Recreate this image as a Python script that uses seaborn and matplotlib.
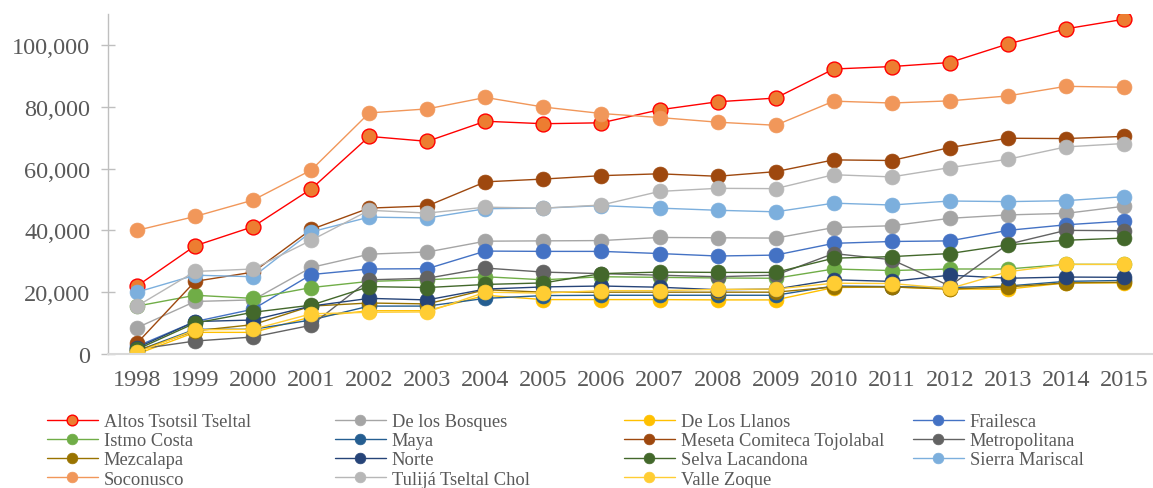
import matplotlib
matplotlib.use("Agg")
import matplotlib.pyplot as plt
import seaborn as sns
import pandas as pd
from matplotlib.ticker import FuncFormatter

years = list(range(1998, 2016))

altos_tsotsil_tseltal = [22000, 35000, 41200, 53400, 70400, 68800, 75300, 74500, 74800, 79000, 81600, 82800, 92200, 93000, 94300, 100300, 105200, 108300]
de_los_bosques = [8500, 17000, 17500, 28000, 32300, 33000, 36500, 36600, 36700, 37700, 37600, 37500, 40900, 41500, 43900, 45000, 45500, 47800]
de_los_llanos = [0, 7000, 7000, 12000, 14000, 14000, 19000, 17600, 17600, 17600, 17500, 17500, 21500, 21700, 21000, 21000, 23000, 23000]
frailesca = [2500, 10500, 14500, 25700, 27500, 27600, 33300, 33200, 33200, 32500, 31700, 32000, 35800, 36400, 36600, 40000, 41800, 43000]
istmo_costa = [15500, 19000, 18000, 21500, 23500, 24000, 25000, 24000, 25000, 24800, 24600, 24500, 27500, 27000, 27500, 27500, 29000, 29000]
maya = [1000, 8000, 8000, 11000, 15500, 15500, 18000, 18900, 19000, 19000, 19000, 19000, 22000, 21800, 21500, 22000, 23500, 23800]
meseta_comiteca = [3500, 23500, 26500, 40300, 47200, 47900, 55700, 56600, 57700, 58300, 57500, 59000, 62800, 62600, 66800, 69800, 69700, 70400]
metropolitana = [1500, 4200, 5500, 9300, 24000, 24500, 27800, 26500, 26000, 25500, 25000, 25500, 32500, 30500, 22000, 35500, 40000, 39900]
mezcalapa = [1000, 7500, 9500, 15500, 16500, 16200, 20800, 20000, 20000, 20000, 20000, 20000, 21700, 21700, 21000, 21700, 23000, 23200]
norte = [2000, 10500, 11000, 15500, 18000, 17500, 21000, 21700, 22000, 21600, 20800, 21000, 24000, 23500, 25500, 24500, 24900, 24800]
selva_lacandona = [1500, 10000, 13500, 15800, 21800, 21500, 22500, 23000, 26000, 26500, 26400, 26400, 31000, 31500, 32500, 35300, 36800, 37500]
sierra_mariscal = [20000, 25500, 25000, 39500, 44300, 44000, 47000, 47200, 48000, 47200, 46500, 46000, 48800, 48200, 49500, 49300, 49600, 50900]
soconusco = [40000, 44500, 49800, 59500, 78000, 79300, 83000, 79900, 77800, 76500, 75000, 74000, 81800, 81200, 81900, 83500, 86600, 86300]
tulija_tseltal_chol = [15500, 26700, 27500, 36800, 46500, 45600, 47500, 47200, 48200, 52600, 53600, 53500, 58000, 57300, 60300, 63000, 67000, 68100]
valle_zoque = [500, 7800, 8000, 13000, 13500, 13600, 20000, 19700, 20500, 20500, 20900, 21000, 22900, 22800, 21200, 26600, 29000, 29000]

names = ["Altos Tsotsil Tseltal", "De los Bosques", "De Los Llanos", "Frailesca",
         "Istmo Costa", "Maya", "Meseta Comiteca Tojolabal", "Metropolitana",
         "Mezcalapa", "Norte", "Selva Lacandona", "Sierra Mariscal",
         "Soconusco", "Tulijá Tseltal Chol", "Valle Zoque"]
series = [altos_tsotsil_tseltal, de_los_bosques, de_los_llanos, frailesca,
          istmo_costa, maya, meseta_comiteca, metropolitana, mezcalapa, norte,
          selva_lacandona, sierra_mariscal, soconusco, tulija_tseltal_chol, valle_zoque]
colors = ["#FF0000", "#A5A5A5", "#FFC000", "#4472C4", "#70AD47", "#255E91",
          "#9E480E", "#636363", "#997300", "#264478", "#43682B", "#7CAFDD",
          "#F1975A", "#B7B7B7", "#FFCD33"]

sns.set_theme(style="white")
plt.rcParams['font.family'] = ['Liberation Serif', 'DejaVu Serif']

fig = plt.figure(figsize=(11.53, 4.89), dpi=100)
ax = fig.add_axes([108/1153, 1-355/489, 1-108/1153, 340/489])

handles = {}
for name, vals, col in zip(names, series, colors):
    df = pd.DataFrame({"year": years, "value": vals})
    mfc = "#ED7D31" if name == "Altos Tsotsil Tseltal" else col
    mec = "#FF0000" if name == "Altos Tsotsil Tseltal" else col
    mew = 1.0 if name == "Altos Tsotsil Tseltal" else 0.5
    sns.lineplot(data=df, x="year", y="value", ax=ax, color=col, lw=1.0,
                 marker="o", markersize=10.7, markerfacecolor=mfc,
                 markeredgecolor=mec, markeredgewidth=mew, legend=False)
    handles[name] = ax.lines[-1]

ax.set_xlim(1997.5, 2015.5)
ax.set_ylim(0, 110000)
ax.set_xticks(years)
ax.set_xticklabels([str(y) for y in years])
ax.set_yticks(range(0, 100001, 20000))
ax.yaxis.set_major_formatter(FuncFormatter(lambda v, p: f"{int(v):,}"))
ax.set_xlabel("")
ax.set_ylabel("")
for s in ["top", "right"]:
    ax.spines[s].set_visible(False)
ax.spines["left"].set_color("#BFBFBF")
ax.spines["left"].set_linewidth(1.0)
ax.spines["bottom"].set_color("#D9D9D9")
ax.spines["bottom"].set_linewidth(1.5)
ax.tick_params(axis="y", direction="inout", length=9.5, width=1.0, color="#BFBFBF",
               labelsize=17.5, labelcolor="#595959", pad=8, left=True)
ax.tick_params(axis="x", length=0, labelsize=17.5, labelcolor="#595959", pad=11)
ax.grid(False)

cols = [
    ["Altos Tsotsil Tseltal", "Istmo Costa", "Mezcalapa", "Soconusco"],
    ["De los Bosques", "Maya", "Norte", "Tulijá Tseltal Chol"],
    ["De Los Llanos", "Meseta Comiteca Tojolabal", "Selva Lacandona", "Valle Zoque"],
    ["Frailesca", "Metropolitana", "Sierra Mariscal"],
]
xstarts = [47, 335, 624, 913]
for xs, group in zip(xstarts, cols):
    leg = fig.legend([handles[n] for n in group], group, loc="upper left",
                     bbox_to_anchor=(xs/1153, 1-414/489), frameon=False,
                     fontsize=13.3, handlelength=2.76, handletextpad=0.32,
                     labelspacing=0.12, borderpad=0, borderaxespad=0,
                     markerscale=0.72)
    for t in leg.get_texts():
        t.set_color("#595959")

fig.savefig("out.png", dpi=100)
